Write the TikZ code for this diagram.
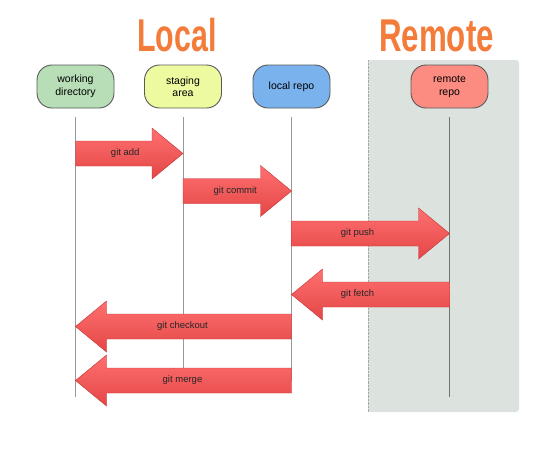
\documentclass[tikz,border=0pt]{standalone}
\usepackage{fontspec}
\setmainfont{Liberation Sans}
\usetikzlibrary{calc}

\definecolor{titleorange}{RGB}{244,124,58}
\definecolor{wdgreen}{RGB}{183,222,183}
\definecolor{sayellow}{RGB}{238,250,160}
\definecolor{lrblue}{RGB}{122,178,238}
\definecolor{rrred}{RGB}{252,140,130}
\definecolor{panelgray}{RGB}{220,227,222}
\definecolor{arrowtop}{RGB}{255,112,112}
\definecolor{arrowbot}{RGB}{228,70,70}
\definecolor{arrowline}{RGB}{196,48,48}

\tikzset{
  title/.style={text=titleorange, font=\bfseries\fontsize{46}{46}\selectfont, inner sep=0pt, anchor=base},
  area/.style={draw=black!65, line width=0.9pt, rounded corners=15pt,
    minimum width=77pt, minimum height=43pt, align=center,
    font=\fontsize{10.5}{12.5}\selectfont},
  lifeline/.style={draw=black!40, line width=0.8pt},
  arrowtext/.style={font=\fontsize{9.5}{11}\selectfont, text=black!85},
  bigarrow/.style n args={2}{top color=arrowtop, bottom color=arrowbot, draw=arrowline, line width=0.4pt,
    to path={
      ($(\tikztostart)+(0,12.5pt)$)
      -- ($(\tikztotarget)!31pt!(\tikztostart)+(0,12.5pt)$)
      -- ($(\tikztotarget)!31pt!(\tikztostart)+(0,25.5pt)$)
      -- (\tikztotarget)
      -- ($(\tikztotarget)!31pt!(\tikztostart)+(0,-25.5pt)$)
      -- ($(\tikztotarget)!31pt!(\tikztostart)+(0,-12.5pt)$)
      -- ($(\tikztostart)+(0,-12.5pt)$) -- cycle
      ($(\tikztostart)!0.5!(\tikztotarget)$) node[arrowtext, xshift=#2] {#1}
    }}
}

\begin{document}
\begin{tikzpicture}[x=1pt, y=-1pt]
  \useasboundingbox (0,0) rectangle (553,451);

  % remote side
  \fill[panelgray, rounded corners=3pt] (368,60) rectangle (519,412);
  \draw[black!35, densely dotted] (368,60) -- (368,412);

  \node[title] (local) at (177,51) {\scalebox{0.66}[1]{Local}};
  \node[title] (remote) at (436.5,51) {\scalebox{0.68}[1]{Remote}};

  \node[area, fill=wdgreen] (wd) at (75.5,86.5) {working\\directory};
  \node[area, fill=sayellow] (sa) at (183,86.5) {staging\\area};
  \node[area, fill=lrblue] (lr) at (291.5,86.5) {local repo};
  \node[area, fill=rrred] (rr) at (449.5,86.5) {remote\\repo};

  \coordinate (bottom) at (0,397);
  \coordinate (add) at (0,153.5);
  \coordinate (commit) at (0,191);
  \coordinate (push) at (0,233.5);
  \coordinate (fetch) at (0,294.5);
  \coordinate (checkout) at (0,326.5);
  \coordinate (merge) at (0,380.5);

  \draw[lifeline] ([yshift=-9pt]wd.south) -- (wd |- bottom);
  \draw[lifeline] ([yshift=-9pt]sa.south) -- (sa |- merge);
  \draw[lifeline] ([yshift=-9pt]lr.south) -- (lr |- merge);
  \draw[lifeline, draw=black!55, line width=1.3pt] ([yshift=-9pt]rr.south) -- (rr |- bottom);

  \path[bigarrow={git add}{-4pt}] (wd |- add) to (sa |- add);
  \path[bigarrow={git commit}{-2pt}] (sa |- commit) to (lr |- commit);
  \path[bigarrow={git push}{-13pt}] (lr |- push) to (rr |- push);
  \path[bigarrow={git fetch}{-13pt}] (rr |- fetch) to (lr |- fetch);
  \path[bigarrow={git checkout}{-1pt}] (lr |- checkout) to (wd |- checkout);
  \path[bigarrow={git merge}{-1pt}] (lr |- merge) to (wd |- merge);
\end{tikzpicture}
\end{document}
